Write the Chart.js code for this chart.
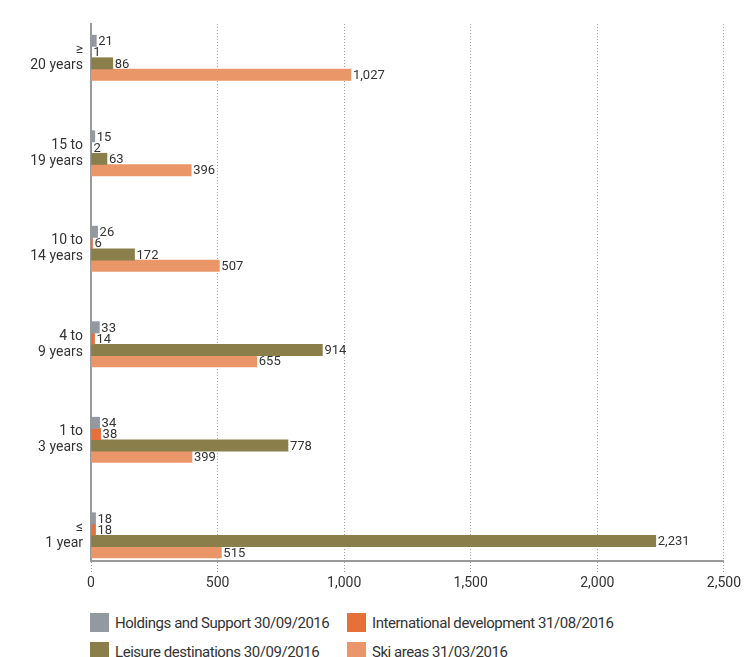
<!DOCTYPE html>
<html>
<head>
<meta charset="utf-8">
<script src="https://cdn.jsdelivr.net/npm/chart.js@4"></script>
<style>
  body { margin: 0; background: #fff; font-family: Roboto, sans-serif; }
  #wrap { position: relative; width: 744px; height: 657px; overflow: hidden; }
  #box { position: absolute; left: 0; top: 0; width: 744px; height: 600px; }
  .leg { position: absolute; display: flex; align-items: center; font-size: 15px; letter-spacing: -0.45px; color: #333; white-space: nowrap; }
  .leg span.sw { display: inline-block; width: 19px; height: 19px; margin-right: 6px; }
</style>
</head>
<body>
<div id="wrap">
  <div id="box"><canvas id="chart"></canvas></div>
  <div id="legend"></div>
</div>
<script>
// Categories (top to bottom) and series values
const categories = [
    ['≥', '20 years'],
    ['15 to', '19 years'],
    ['10 to', '14 years'],
    ['4 to', '9 years'],
    ['1 to', '3 years'],
    ['≤', '1 year'],
];
const holdings = [21, 15, 26, 33, 34, 18];
const international = [1, 2, 6, 14, 38, 18];
const leisure = [86, 63, 172, 914, 778, 2231];
const skiAreas = [1027, 396, 507, 655, 399, 515];
const xTicks = [0, 500, 1000, 1500, 2000, 2500];

const seriesNames = [
    'Holdings and Support 30/09/2016',
    'International development 31/08/2016',
    'Leisure destinations 30/09/2016',
    'Ski areas 31/03/2016',
];
const seriesColors = ['#9299a1', '#e5703a', '#8a7f4a', '#ea9669'];

const toPoints = vals => vals.map((v, i) => ({ x: v, y: i }));
const fmt = v => v.toLocaleString('en-US');

// Value labels at the end of each bar
const valueLabels = {
    id: 'valueLabels',
    afterDatasetsDraw(chart) {
        const ctx = chart.ctx;
        ctx.save();
        ctx.font = '13px Roboto, sans-serif';
        ctx.fillStyle = '#333';
        ctx.textAlign = 'left';
        ctx.textBaseline = 'middle';
        chart.data.datasets.forEach((ds, di) => {
            chart.getDatasetMeta(di).data.forEach((bar, i) => {
                ctx.fillText(fmt(ds.data[i].x), bar.x + 2, bar.y + 1);
            });
        });
        ctx.restore();
    }
};

const datasets = [holdings, international, leisure, skiAreas].map((vals, k) => ({
    label: seriesNames[k],
    data: toPoints(vals),
    backgroundColor: seriesColors[k],
    barThickness: 11.3,
}));

const chart = new Chart(document.getElementById('chart').getContext('2d'), {
    type: 'bar',
    data: { datasets: datasets },
    options: {
        indexAxis: 'y',
        responsive: true,
        maintainAspectRatio: false,
        animation: false,
        layout: { padding: { top: 18, right: 19, left: 0, bottom: 0 } },
        plugins: { legend: { display: false }, tooltip: { enabled: false } },
        scales: {
            x: {
                type: 'linear',
                min: 0,
                max: 2500,
                afterBuildTicks: s => { s.ticks = xTicks.map(v => ({ value: v })); },
                afterFit: s => { s.height = 39; },
                grid: {
                    color: '#9a9a9a',
                    lineWidth: 1,
                    tickBorderDash: [1, 2],
                    tickLength: 11,
                },
                border: { display: true, color: '#9a9a9a', width: 2, dash: [1, 2] },
                ticks: {
                    padding: 3,
                    color: '#333',
                    font: { family: 'Roboto, sans-serif', size: 14 },
                    callback: v => fmt(v),
                },
            },
            y: {
                type: 'linear',
                reverse: true,
                offset: false,
                min: -0.352,
                max: 5.269,
                afterBuildTicks: s => { s.ticks = categories.map((c, i) => ({ value: i })); },
                afterFit: s => { s.width = 91; },
                grid: { display: false, drawTicks: false, offset: false },
                border: { display: true, color: '#9a9a9a', width: 2 },
                ticks: {
                    padding: 8,
                    color: '#333',
                    font: { family: 'Roboto, sans-serif', size: 14, lineHeight: 1.15 },
                    callback: v => categories[v],
                },
            },
        },
    },
    plugins: [valueLabels],
});

// Two-column legend below the chart
const legendPos = [[90, 613], [347, 613], [90, 642], [347, 642]];
const legendEl = document.getElementById('legend');
chart.data.datasets.forEach((ds, k) => {
    const d = document.createElement('div');
    d.className = 'leg';
    d.style.left = legendPos[k][0] + 'px';
    d.style.top = legendPos[k][1] + 'px';
    d.innerHTML = `<span class="sw" style="background:${ds.backgroundColor}"></span>${ds.label}`;
    legendEl.appendChild(d);
});
</script>
</body>
</html>
